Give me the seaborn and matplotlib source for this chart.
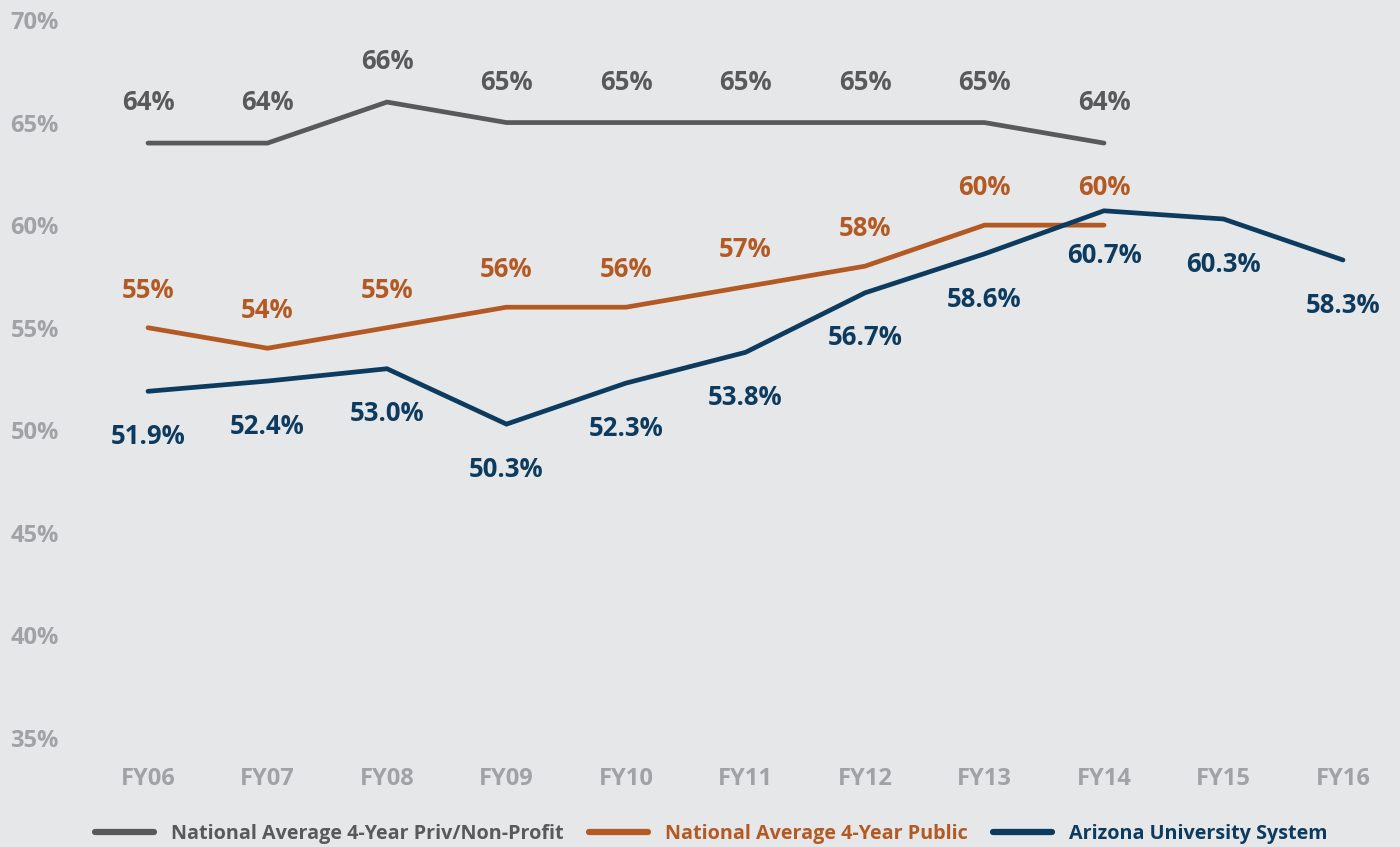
import matplotlib
matplotlib.use("Agg")
import matplotlib.pyplot as plt
import seaborn as sns
import pandas as pd
from matplotlib.lines import Line2D

years = ["FY06", "FY07", "FY08", "FY09", "FY10", "FY11", "FY12", "FY13", "FY14", "FY15", "FY16"]
priv_vals = [64, 64, 66, 65, 65, 65, 65, 65, 64]
public_vals = [55, 54, 55, 56, 56, 57, 58, 60, 60]
az_vals = [51.9, 52.4, 53.0, 50.3, 52.3, 53.8, 56.7, 58.6, 60.7, 60.3, 58.3]
series_names = ["National Average 4-Year Priv/Non-Profit", "National Average 4-Year Public", "Arizona University System"]
colors = ["#58595b", "#b35a24", "#0d3b5f"]
yticks = [35, 40, 45, 50, 55, 60, 65, 70]

sns.set_theme(style="white")
plt.rcParams['font.family'] = ['Open Sans', 'DejaVu Sans']
plt.rcParams['font.weight'] = 'bold'

bg = "#e6e7e8"
fig = plt.figure(figsize=(14, 8.47), dpi=100, facecolor=bg)
ax = fig.add_axes([0.07, 1 - 738 / 847, 0.93, (738 - 20) / 847])
ax.set_facecolor(bg)

rows = []
for name, vals in zip(series_names, [priv_vals, public_vals, az_vals]):
    for i, v in enumerate(vals):
        rows.append({"series": name, "x": i, "value": v})
df = pd.DataFrame(rows)

palette = dict(zip(series_names, colors))
sns.lineplot(data=df, x="x", y="value", hue="series", palette=palette, linewidth=3.4,
             ax=ax, legend=False)
for line in ax.get_lines():
    line.set_solid_capstyle("round")
    line.set_solid_joinstyle("miter")

lab_fs = 18.5
for i, v in enumerate(priv_vals):
    ax.annotate(f"{v:.0f}%", (i, v), xytext=(0, 29), textcoords="offset points",
                ha="center", va="center", fontsize=lab_fs, fontweight="bold", color=colors[0])
for i, v in enumerate(public_vals):
    ax.annotate(f"{v:.0f}%", (i, v), xytext=(0, 27), textcoords="offset points",
                ha="center", va="center", fontsize=lab_fs, fontweight="bold", color=colors[1])
for i, v in enumerate(az_vals):
    ax.annotate(f"{v:.1f}%", (i, v), xytext=(0, -32.5), textcoords="offset points",
                ha="center", va="center", fontsize=lab_fs, fontweight="bold", color=colors[2])

xmin = -(148 - 98) / 119.5
xmax = 10 + (1400 - 1343) / 119.5
ax.set_xlim(xmin, xmax)
ax.set_ylim(35, 70)
ax.set_xticks(range(len(years)))
ax.set_xticklabels(years)
ax.set_yticks(yticks)
ax.set_yticklabels([f"{t}%" for t in yticks])
ax.tick_params(axis="y", length=0, pad=63, labelsize=17, labelcolor="#a0a2a5")
ax.tick_params(axis="x", length=0, pad=21, labelsize=17, labelcolor="#a0a2a5")
for lab in ax.get_yticklabels():
    lab.set_horizontalalignment("left")
    lab.set_fontweight("bold")
for lab in ax.get_xticklabels():
    lab.set_fontweight("bold")
ax.set_xlabel("")
ax.set_ylabel("")
for s in ax.spines.values():
    s.set_visible(False)

handles = [Line2D([0], [0], color=c, lw=4.5, solid_capstyle="round") for c in colors]
leg = fig.legend(handles, series_names, loc="center", bbox_to_anchor=(0.508, 1 - 834 / 847),
                 ncol=3, frameon=False, fontsize=14.2, handlelength=3.0, columnspacing=1.3,
                 handletextpad=0.85)
for t, c in zip(leg.get_texts(), colors):
    t.set_color(c)
    t.set_fontweight("bold")

fig.savefig("out.png", dpi=100, facecolor=bg)
